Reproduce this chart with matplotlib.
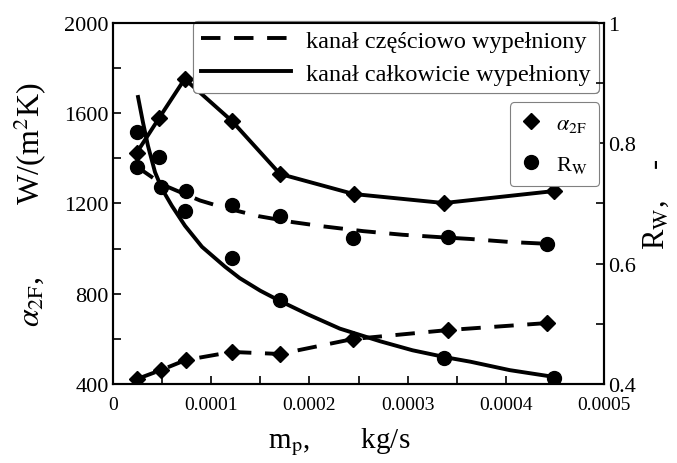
import numpy as np
import matplotlib
matplotlib.use('Agg')
import matplotlib.pyplot as plt
from matplotlib.ticker import MultipleLocator, FixedLocator
from matplotlib.lines import Line2D

plt.rcParams['font.family'] = ['Liberation Serif', 'DejaVu Serif']
plt.rcParams['mathtext.fontset'] = 'stix'

# mass flow, kg/s
x_full = [2.4e-5, 4.7e-5, 7.3e-5, 1.21e-4, 1.70e-4, 2.45e-4, 3.37e-4, 4.49e-4]
x_part = [2.45e-5, 4.9e-5, 7.4e-5, 1.21e-4, 1.70e-4, 2.44e-4, 3.41e-4, 4.42e-4]

# alpha_2F, W/(m2K)
alpha_full = [1424, 1579, 1752, 1566, 1331, 1242, 1202, 1255]
alpha_part = [422, 462, 506, 542, 533, 599, 639, 670]

# R_W
rw_full = [0.819, 0.777, 0.688, 0.609, 0.540, np.nan, 0.443, 0.410]
rw_part = [0.761, 0.727, 0.721, 0.698, 0.679, 0.643, 0.644, 0.633]

# trend curves of R_W
trend_full_x = [2.55e-5, 3.05e-5, 3.56e-5, 4.28e-5, 5.0e-5, 6.0e-5, 7.33e-5, 9.06e-5,
                1.14e-4, 1.29e-4, 1.50e-4, 1.70e-4, 1.98e-4, 2.31e-4, 2.72e-4,
                3.05e-4, 3.40e-4, 3.64e-4, 4.04e-4, 4.48e-4]
trend_full_y = [0.877, 0.835, 0.796, 0.752, 0.724, 0.696, 0.663, 0.628,
                0.595, 0.576, 0.555, 0.538, 0.516, 0.492, 0.471,
                0.456, 0.444, 0.437, 0.423, 0.412]
trend_part_x = [2.44e-5, 3.77e-5, 5.09e-5, 6.82e-5, 8.86e-5, 1.11e-4, 1.48e-4, 1.83e-4,
                2.14e-4, 2.55e-4, 2.95e-4, 3.33e-4, 3.64e-4, 4.04e-4, 4.42e-4]
trend_part_y = [0.761, 0.746, 0.731, 0.719, 0.705, 0.694, 0.679, 0.669,
                0.662, 0.654, 0.648, 0.644, 0.641, 0.636, 0.633]

x_ticks = [0, 0.0001, 0.0002, 0.0003, 0.0004, 0.0005]
x_ticklabels = ['0', '0.0001', '0.0002', '0.0003', '0.0004', '0.0005']

lw = 2.8
dash = (5, 3.5)

fig = plt.figure(figsize=(6.77, 4.64), dpi=100)
ax = fig.add_axes([0.1669, 0.1703, 0.7253, 0.7780])
ax2 = ax.twinx()

ax.plot(x_full, alpha_full, color='black', lw=lw, marker='D', ms=8)
ax.plot(x_part, alpha_part, color='black', lw=lw, dashes=dash, marker='D', ms=8)

ax2.plot(trend_full_x, trend_full_y, color='black', lw=lw, solid_joinstyle='round')
ax2.plot(trend_part_x, trend_part_y, color='black', lw=lw, dashes=dash)
ax2.plot(x_full, rw_full, 'o', color='black', ms=10)
ax2.plot(x_part, rw_part, 'o', color='black', ms=10)

ax.set_xlim(0, 0.0005)
ax.set_ylim(400, 2000)
ax2.set_ylim(0.4, 1.0)

ax.xaxis.set_major_locator(FixedLocator(x_ticks))
ax.set_xticklabels(x_ticklabels)
ax.xaxis.set_minor_locator(MultipleLocator(0.00005))
ax.yaxis.set_major_locator(MultipleLocator(400))
ax.yaxis.set_minor_locator(MultipleLocator(200))
ax2.yaxis.set_major_locator(FixedLocator([0.4, 0.6, 0.8, 1.0]))
ax2.set_yticklabels(['0.4', '0.6', '0.8', '1'])
ax2.yaxis.set_minor_locator(MultipleLocator(0.1))

for a in (ax, ax2):
    a.tick_params(which='both', direction='in', length=6, width=1.2, labelsize=16, pad=3)
    for s in a.spines.values():
        s.set_linewidth(1.5)
ax.tick_params(axis='x', labelsize=14, pad=9)
ax.tick_params(top=False, right=False)

ax.set_xlabel(r'm$_{\mathrm{p}}$,       kg/s', fontsize=21)
ax.xaxis.set_label_coords(0.46, -0.115)
ax.set_ylabel(r'$\alpha_{\mathrm{2F}}$,         W/(m$^{2}$K)', fontsize=23)
ax.yaxis.set_label_coords(-0.13, 0.5)
ax2.set_ylabel(r'R$_{\mathrm{W}}$,    -', fontsize=22, rotation=90, labelpad=4)

h1 = [Line2D([], [], color='black', lw=lw, dashes=dash),
      Line2D([], [], color='black', lw=lw)]
leg1 = ax.legend(h1, ['kanał częściowo wypełniony', 'kanał całkowicie wypełniony'],
                 loc='upper right', bbox_to_anchor=(0.99, 1.005), fontsize=17.5,
                 handlelength=3.7, fancybox=True, framealpha=1, edgecolor='gray',
                 borderpad=0.35, labelspacing=0.45, handletextpad=0.6, borderaxespad=0)
leg1.get_frame().set_linewidth(0.8)
ax.add_artist(leg1)

h2 = [Line2D([], [], color='black', ls='none', marker='D', ms=8),
      Line2D([], [], color='black', ls='none', marker='o', ms=10)]
leg2 = ax2.legend(h2, [r'$\alpha_{\mathrm{2F}}$', r'R$_{\mathrm{W}}$'],
                  loc='upper right', bbox_to_anchor=(0.99, 0.78), fontsize=16,
                  handlelength=0.9, fancybox=True, framealpha=1, edgecolor='gray',
                  borderpad=0.5, labelspacing=0.9, handletextpad=0.7, borderaxespad=0)
leg2.get_frame().set_linewidth(0.8)

fig.savefig('out.png', dpi=100)
